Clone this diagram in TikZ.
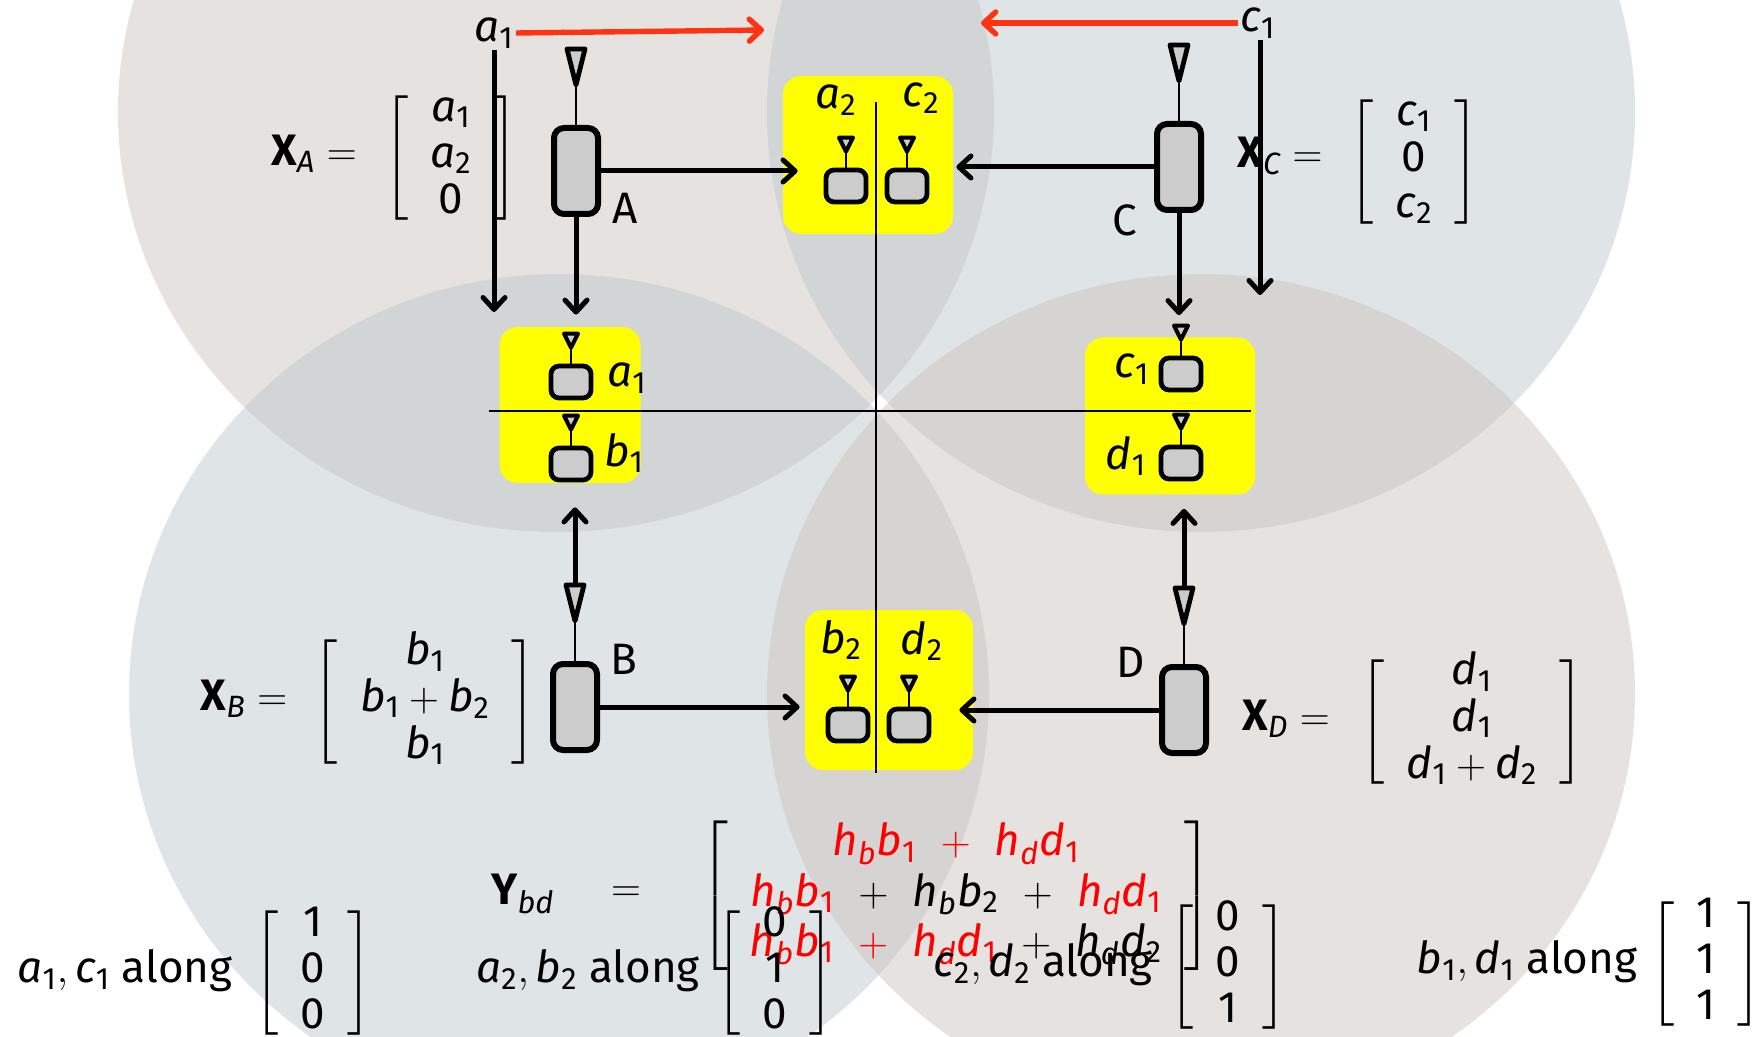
\documentclass[tikz,border=0pt]{standalone}
\usepackage{amsmath}
\usepackage{fontspec}
\setmainfont{Fira Sans}
\usepackage{tikz}
\usetikzlibrary{arrows.meta,positioning,calc}
\definecolor{diskbeige}{RGB}{205,197,191}
\definecolor{diskblue}{RGB}{191,201,207}
\definecolor{boxgray}{RGB}{204,204,204}
\definecolor{zoneyellow}{RGB}{255,255,0}
\definecolor{linkred}{RGB}{255,51,17}
\definecolor{sumred}{RGB}{255,0,0}
\setlength{\arraycolsep}{11pt}
\delimiterfactor=850
\delimitershortfall=20pt
\newcommand{\colvec}[3]{\left[\begin{array}{c}#1\\#2\\#3\end{array}\right]}
\newcommand{\rd}[1]{{\color{sumred}#1}}
\newcommand{\sv}[2]{\mathit{#1}_{\mathrm{#2}}}
\newcommand{\nd}[1]{\mathrm{#1}}

\begin{document}
\begin{tikzpicture}[x=0.5pt,y=-0.5pt,font=\fontsize{22}{23}\selectfont,
  tx/.style={draw,line width=3pt,fill=boxgray,rounded corners=5pt,minimum width=22pt,minimum height=43pt,inner sep=0pt},
  rx/.style={draw,line width=2.4pt,fill=boxgray,rounded corners=4pt,minimum width=20pt,minimum height=16pt,inner sep=0pt},
  zone/.style={fill=zoneyellow,rounded corners=9pt,inner sep=0pt},
  vec/.style={inner sep=1pt},
  link/.style={line width=2.5pt,-{Straight Barb[length=6pt,width=11pt,round]}},
  redlink/.style={link,draw=linkred,line width=2.7pt},
  pics/bigant/.style={code={
    \draw[line width=0.8pt] (0,0) -- (0,-38);
    \draw[line width=2.4pt,fill=boxgray,line join=round] (0,-40) -- (-9,-76) -- (9,-76) -- cycle;
    \coordinate (-top) at (0,-78);
  }},
  pics/smallant/.style={code={
    \draw[line width=0.8pt] (0,0) -- (0,-15);
    \draw[line width=2pt,fill=boxgray,line join=round] (0,-16) -- (-7,-30) -- (7,-30) -- cycle;
  }}]
  \useasboundingbox (0,0) rectangle (1762,1037);
  % coverage discs
  \fill[diskbeige,fill opacity=0.5] (556,112) ellipse [x radius=219pt,y radius=210pt];
  \fill[diskblue,fill opacity=0.5] (1201,112) ellipse [x radius=217pt,y radius=210pt];
  \fill[diskblue,fill opacity=0.5] (559,694) ellipse [x radius=215pt,y radius=210pt];
  \fill[diskbeige,fill opacity=0.5] (1201,694) ellipse [x radius=217pt,y radius=210pt];
  % receiver zones
  \node[zone,minimum width=85pt,minimum height=79pt] (topzone) at (868,155) {};
  \node[zone,minimum width=70.5pt,minimum height=78pt] (leftzone) at (570,405) {};
  \node[zone,minimum width=85pt,minimum height=78.5pt] (rightzone) at (1170,416) {};
  \node[zone,minimum width=84pt,minimum height=80pt] (botzone) at (889,690) {};
  \coordinate (vtop) at (876,102);
  \coordinate (vbot) at (876,773);
  \coordinate (hleft) at (489,411);
  \coordinate (hright) at (1251,411);
  \draw[line width=1.3pt] (vtop) -- (vbot);
  \draw[line width=1.3pt] (hleft) -- (hright);
  % transmitters
  \node[tx] (tA) at (576,171) {};
  \node[tx] (tB) at (575,707) {};
  \node[tx] (tC) at (1179,167) {};
  \node[tx] (tD) at (1184,710) {};
  \pic (antA) at (tA.north) {bigant};
  \pic (antB) at (tB.north) {bigant};
  \pic (antC) at (tC.north) {bigant};
  \pic (antD) at (tD.north) {bigant};
  \node (nA) at (625,208) {A};
  \node (nB) at (624,659) {B};
  \node (nC) at (1125,220) {C};
  \node (nD) at (1131,662) {D};
  % receivers
  \node[rx] (ra2) at (846,186) {};
  \node[rx] (rc2) at (907,186) {};
  \node[rx] (ra1) at (571,382) {};
  \node[rx] (rb1) at (571,464) {};
  \node[rx] (rc1) at (1181,374) {};
  \node[rx] (rd1) at (1181,463) {};
  \node[rx] (rb2) at (848,725) {};
  \node[rx] (rd2) at (909,725) {};
  \foreach \r in {ra2,rc2,ra1,rb1,rc1,rd1,rb2,rd2}
    \pic at (\r.north) {smallant};
  \node (la2) at (836,100) {$\sv{a}{2}$};
  \node (lc2) at (921,98) {$\sv{c}{2}$};
  \node (la1) at (627,378) {$\sv{a}{1}$};
  \node (lb1) at (624,453) {$\sv{b}{1}$};
  \node (lc1) at (1132,369) {$\sv{c}{1}$};
  \node (ld1) at (1126,456) {$\sv{d}{1}$};
  \node (lb2) at (841,640) {$\sv{b}{2}$};
  \node (ld2) at (922,641) {$\sv{d}{2}$};
  % links
  \node[inner sep=1pt] (srca) at (494,33) {$\sv{a}{1}$};
  \node[inner sep=1pt] (srcc) at (1258,23) {$\sv{c}{1}$};
  \coordinate (redA) at (764,30);
  \coordinate (redC) at (981,23);
  \coordinate (dropA) at (494,312);
  \coordinate (dropC) at (1260,295);
  \draw[redlink] (srca.east) -- (redA);
  \draw[redlink] (srcc.west) -- (redC);
  \draw[link] (srca.south) -- (dropA);
  \draw[link] (dropC |- srcc.south) -- (dropC);
  \draw[link,shorten >=13pt] (tA.east) -- (tA.east -| ra2.west);
  \draw[link,shorten >=13.5pt] (tC.west) -- (tC.west -| rc2.east);
  \draw[link,shorten >=13pt] (tB.east) -- (tB.east -| rb2.west);
  \draw[link,shorten >=14pt] (tD.west) -- (tD.west -| rd2.east);
  \draw[link,shorten >=6pt] (tA.south) -- (tA.south |- leftzone.north);
  \draw[link,shorten >=11pt] (tC.south) -- (tC.south |- rightzone.north);
  \draw[link,shorten >=12pt] (antB-top) -- (antB-top |- leftzone.south);
  \draw[link,shorten >=7pt] (antD-top) -- (antD-top |- rightzone.south);
  % signal vectors
  \node (XAlab) at (314,154) {$\mathbf{X}_{\mathit{A}} =$};
  \node[vec] (XAmat) at (451,158) {$\colvec{\sv{a}{1}}{\sv{a}{2}}{\nd{0}}$};
  \node (XClab) at (1280,156) {$\mathbf{X}_{\mathit{C}} =$};
  \node[vec] (XCmat) at (1414,162) {$\colvec{\sv{c}{1}}{\nd{0}}{\sv{c}{2}}$};
  \node (XBlab) at (244,699) {$\mathbf{X}_{\mathit{B}} =$};
  \node[vec] (XBmat) at (425,702) {$\colvec{\sv{b}{1}}{\sv{b}{1}+\sv{b}{2}}{\sv{b}{1}}$};
  \node (XDlab) at (1286,719) {$\mathbf{X}_{\mathit{D}} =$};
  \node[vec] (XDmat) at (1472,722) {$\colvec{\sv{d}{1}}{\sv{d}{1}}{\sv{d}{1}+\sv{d}{2}}$};
  \node (Ylab) at (523,894) {$\mathbf{Y}_{\mathit{bd}}$};
  \node (Yeq) at (626,894) {$=$};
  \node[vec] (Ymat) at (956,896) {$\delimiterfactor=901\delimitershortfall=5pt\medmuskip=10.5mu plus 2mu minus 2mu\renewcommand{\arraystretch}{1.09}\colvec{\rd{\sv{h}{\mathit{b}}\sv{b}{1}+\sv{h}{\mathit{d}}\sv{d}{1}}}{\rd{\sv{h}{\mathit{b}}\sv{b}{1}}+\sv{h}{\mathit{b}}\sv{b}{2}+\rd{\sv{h}{\mathit{d}}\sv{d}{1}}}{\rd{\sv{h}{\mathit{b}}\sv{b}{1}+\sv{h}{\mathit{d}}\sv{d}{1}}+\sv{h}{\mathit{d}}\sv{d}{2}}$};
  % directions
  \node (alA) at (125,971) {$\sv{a}{1}, \sv{c}{1}$\ along};
  \node[vec] (alAmat) at (313,973) {$\colvec{\nd{1}}{\nd{0}}{\nd{0}}$};
  \node (alB) at (588,971) {$\sv{a}{2}, \sv{b}{2}$\ along};
  \node[vec] (alBmat) at (775,973) {$\colvec{\nd{0}}{\nd{1}}{\nd{0}}$};
  \node (alC) at (1043,965) {$\sv{c}{2}, \sv{d}{2}$\ along};
  \node[vec] (alCmat) at (1228,967) {$\colvec{\nd{0}}{\nd{0}}{\nd{1}}$};
  \node (alD) at (1527,962) {$\sv{b}{1}, \sv{d}{1}$\ along};
  \node[vec] (alDmat) at (1706,964) {$\colvec{\nd{1}}{\nd{1}}{\nd{1}}$};
\end{tikzpicture}
\end{document}
